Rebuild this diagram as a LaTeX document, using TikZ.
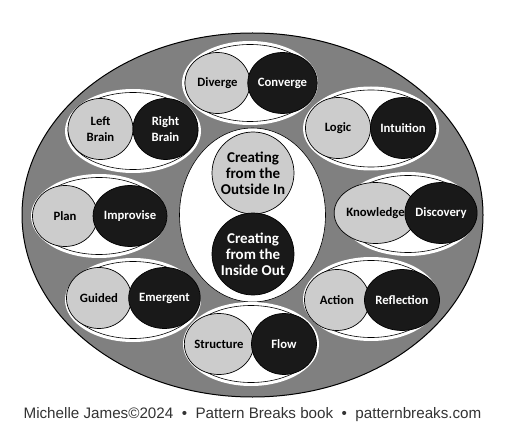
\documentclass[tikz,border=0pt]{standalone}
\usepackage{fontspec}
\setmainfont{Carlito}
\newfontfamily\creditfont{Liberation Sans}
\usetikzlibrary{shapes.geometric}
\definecolor{ringgray}{gray}{0.5}
\definecolor{softgray}{gray}{0.8}
\definecolor{deepgray}{gray}{0.1}
\begin{document}
\begin{tikzpicture}[x=1pt, y=-1pt,
    pole/.style={ellipse, draw=black, line width=0.7pt, inner sep=0pt, minimum width=65pt, minimum height=61pt, align=center, font=\bfseries\fontsize{12.7}{15.5}\selectfont},
    outpole/.style={pole, fill=softgray, text=black},
    inpole/.style={pole, fill=deepgray, text=white},
    core/.style={circle, draw=black, line width=0.7pt, inner sep=0pt, minimum size=82pt, align=center, font=\bfseries\fontsize{15}{16}\selectfont},
    pairband/.style={fill=white},
    pairline/.style={draw=black, line width=0.6pt}]
    \useasboundingbox (0,0) rectangle (505,438);
    % outer ring
    \draw[fill=ringgray, line width=1pt] (252.5,215) ellipse [x radius=230.5, y radius=182];
    \draw[fill=white, line width=0.6pt] (252.5,215) ellipse [x radius=73, y radius=87];
    \node[core, fill=softgray, text=black] (outin) at (253,173) {Creating\\from the\\Outside In};
    \node[core, fill=deepgray, text=white] (inout) at (253,254) {Creating\\from the\\Inside Out};
    % pair bands
    \fill[pairband] (250,83) ellipse [x radius=68, y radius=42]; \draw[pairline] (250,83) ellipse [x radius=65, y radius=38.5];
    \fill[pairband] (133,131) ellipse [x radius=68, y radius=42]; \draw[pairline] (133,131) ellipse [x radius=65, y radius=38.5];
    \fill[pairband] (371,128.5) ellipse [x radius=68, y radius=42]; \draw[pairline] (371,128.5) ellipse [x radius=65, y radius=38.5];
    \fill[pairband] (99,216) ellipse [x radius=68, y radius=42]; \draw[pairline] (99,216) ellipse [x radius=65, y radius=38.5];
    \fill[pairband] (408,214) ellipse [x radius=68, y radius=42]; \draw[pairline] (408,214) ellipse [x radius=65, y radius=38.5];
    \fill[pairband] (133,300) ellipse [x radius=68, y radius=42]; \draw[pairline] (133,300) ellipse [x radius=65, y radius=38.5];
    \fill[pairband] (371,299) ellipse [x radius=68, y radius=42]; \draw[pairline] (371,299) ellipse [x radius=65, y radius=38.5];
    \fill[pairband] (251,344) ellipse [x radius=68, y radius=42]; \draw[pairline] (251,344) ellipse [x radius=65, y radius=38.5];
    % poles
    \node[outpole] (diverge) at (217.5,83) {Diverge}; \node[inpole] (converge) at (282.5,83) {Converge};
    \node[outpole] (leftbrain) at (100.5,129) {Left\\Brain}; \node[inpole] (rightbrain) at (165.5,129) {Right\\Brain};
    \node[outpole] (logic) at (338,128) {Logic}; \node[inpole] (intuition) at (403,128) {Intuition};
    \node[outpole] (plan) at (65,216) {Plan}; \node[inpole] (improvise) at (130,216) {Improvise};
    \node[outpole] (knowledge) at (375.5,213) {Knowledge}; \node[inpole] (discovery) at (441,213) {Discovery};
    \node[outpole] (guided) at (99,298) {Guided}; \node[inpole] (emergent) at (164.5,298) {Emergent};
    \node[outpole] (action) at (337,300) {Action}; \node[inpole] (reflection) at (402,300) {Reflection};
    \node[outpole] (structure) at (219,344) {Structure}; \node[inpole] (flow) at (284,344) {Flow};
    % credit line
    \node[font=\creditfont\fontsize{15.2}{18}\selectfont, text=black!80] (credit) at (252.5,415) {Michelle James©2024~~•~~Pattern Breaks book~~•~~patternbreaks.com};
\end{tikzpicture}
\end{document}
